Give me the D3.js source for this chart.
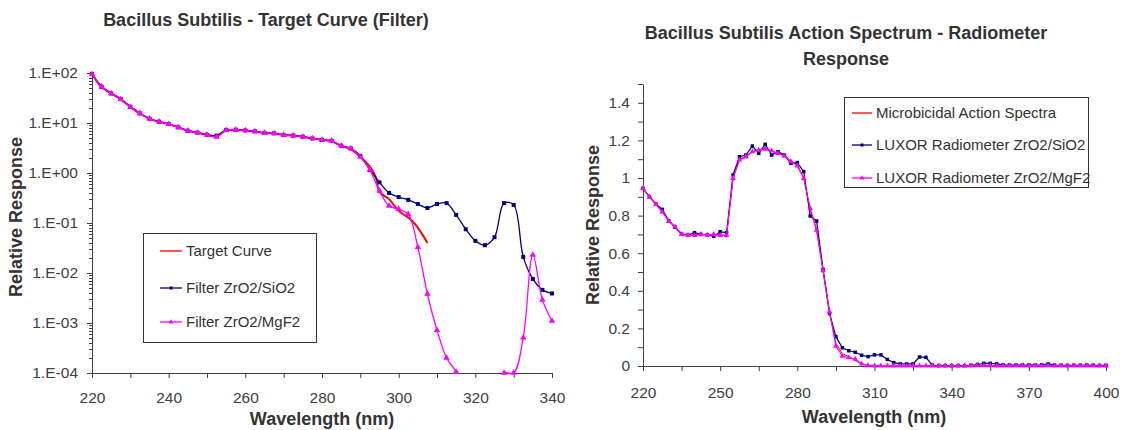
<!DOCTYPE html>
<html>
<head>
<meta charset="utf-8">
<script src="https://cdn.jsdelivr.net/npm/d3@7"></script>
<style>
  body { margin: 0; background: #fff; }
  text { font-family: "Liberation Sans", Arial, sans-serif; fill: #333; }
  .axis path, .axis line { stroke: #404040; }
  .axis text { font-size: 15.5px; fill: #404040; }
</style>
</head>
<body>
<div id="chart"></div>
<script>
// ---- left chart data (log scale) ----
var filterWl = [220, 222.5, 225, 227.5, 230, 232.5, 235, 237.5, 240, 242.5, 245, 247.5, 250, 252.5,
  255, 257.5, 260, 262.5, 265, 267.5, 270, 272.5, 275, 277.5, 280, 282.5, 285, 287.5, 290, 292.5,
  295, 297.5, 300, 302.5, 305, 307.5, 310, 312.5, 315, 317.5, 320, 322.5, 325, 327.5, 330, 332.5,
  335, 337.5, 340]
var filterSiO2 = [95, 53, 39, 30, 21, 15.6, 12.2, 10.6, 9.5, 8.2, 7.0, 6.4, 5.8, 5.6,
  7.2, 7.3, 7.1, 6.8, 6.3, 6.2, 5.75, 5.6, 5.3, 4.9, 4.6, 4.4, 3.5, 3.1, 2.2, 1.15,
  0.65, 0.40, 0.33, 0.29, 0.24, 0.20, 0.24, 0.25, 0.145, 0.075, 0.044, 0.036, 0.052, 0.25, 0.23, 0.021,
  0.0076, 0.0046, 0.0039]
var filterMgF2 = [95, 53, 39, 30, 21, 15.6, 12.2, 10.6, 9.5, 8.2, 7.0, 6.4, 5.8, 5.3,
  7.2, 7.3, 7.1, 6.8, 6.3, 6.2, 5.75, 5.6, 5.3, 4.9, 4.6, 4.4, 3.5, 3.1, 2.1, 1.15,
  0.44, 0.22, 0.19, 0.15, 0.033, 0.0038, 0.00072, 0.0002, 0.000105, 0.00003, 0.00001, 0.00001, 0.00003, 0.0001, 0.0001, 0.00051,
  0.023, 0.0029, 0.0011]
var targetWl = [220, 222.5, 225, 227.5, 230, 232.5, 235, 237.5, 240, 242.5, 245, 247.5, 250, 252.5,
  255, 257.5, 260, 262.5, 265, 267.5, 270, 272.5, 275, 277.5, 280, 282.5, 285, 287.5, 290,
  292.5, 294, 295, 297.5, 300, 303, 304.5, 306, 307.5]
var targetVal = [95, 53, 39, 30, 21, 15.6, 12.2, 10.6, 9.5, 8.2, 7.0, 6.4, 5.8, 5.4,
  7.2, 7.3, 7.1, 6.8, 6.3, 6.2, 5.75, 5.6, 5.3, 4.9, 4.6, 4.3, 3.5, 3.0, 2.1,
  1.34, 0.84, 0.42, 0.30, 0.176, 0.12, 0.091, 0.062, 0.040]
var logTicks = [1e-4, 1e-3, 1e-2, 1e-1, 1, 10, 100]

// ---- right chart data (linear scale) ----
var radioWl = [220, 222.5, 225, 227.5, 230, 232.5, 235, 237.5, 240, 242.5, 245, 247.5, 250, 252.5,
  255, 257.5, 260, 262.5, 265, 267.5, 270, 272.5, 275, 277.5, 280, 282.5, 285, 287.5, 290, 292.5,
  295, 297.5, 300, 302.5, 305, 307.5, 310, 312.5, 315, 317.5, 320, 322.5, 325, 327.5, 330, 332.5,
  335, 337.5, 340, 342.5, 345, 347.5, 350, 352.5, 355, 357.5, 360, 362.5, 365, 367.5, 370, 372.5,
  375, 377.5, 380, 382.5, 385, 387.5, 390, 392.5, 395, 397.5, 400]
var actionSpectra = [0.945, 0.90, 0.86, 0.825, 0.775, 0.74, 0.70, 0.697, 0.697, 0.70, 0.697, 0.697, 0.697, 0.695,
  1.0, 1.10, 1.115, 1.14, 1.15, 1.155, 1.145, 1.13, 1.12, 1.09, 1.07, 1.0, 0.83, 0.72, 0.51, 0.29,
  0.12, 0.066, 0.05, 0.03, 0.011, 0.003, 0, 0, 0, 0, 0, 0, 0, 0, 0, 0,
  0, 0, 0, 0, 0, 0.001, 0.002, 0.002, 0.002, 0.001, 0, 0, 0, 0, 0, 0,
  0, 0, 0, 0, 0, 0, 0, 0, 0, 0, 0]
var radioSiO2 = [0.945, 0.90, 0.862, 0.833, 0.773, 0.738, 0.702, 0.697, 0.709, 0.70, 0.697, 0.69, 0.714, 0.709,
  1.016, 1.113, 1.122, 1.17, 1.131, 1.179, 1.122, 1.14, 1.122, 1.078, 1.082, 1.034, 0.798, 0.771, 0.514, 0.28,
  0.156, 0.097, 0.081, 0.073, 0.057, 0.05, 0.059, 0.059, 0.035, 0.018, 0.011, 0.011, 0.011, 0.048, 0.046, 0.004,
  0.002, 0.002, 0.002, 0.002, 0.002, 0.004, 0.008, 0.014, 0.014, 0.011, 0.006, 0.005, 0.005, 0.005, 0.005, 0.005,
  0.006, 0.011, 0.005, 0.004, 0.003, 0.004, 0.004, 0.005, 0.004, 0.003, 0.003]
var radioMgF2 = [0.945, 0.90, 0.86, 0.82, 0.77, 0.74, 0.70, 0.695, 0.695, 0.70, 0.697, 0.70, 0.695, 0.695,
  0.998, 1.096, 1.113, 1.14, 1.149, 1.154, 1.145, 1.131, 1.117, 1.087, 1.064, 0.998, 0.839, 0.723, 0.507, 0.289,
  0.106, 0.053, 0.044, 0.037, 0.011, 0.002, 0.001, 0.001, 0.001, 0.001, 0.001, 0.001, 0.001, 0.001, 0.001, 0.001,
  0.001, 0.001, 0.001, 0.001, 0.001, 0.001, 0.002, 0.002, 0.002, 0.001, 0.001, 0.001, 0.001, 0.001, 0.001, 0.001,
  0.001, 0.002, 0.001, 0.001, 0.001, 0.001, 0.001, 0.001, 0.001, 0.001, 0.001]

var RED = '#ff0000', NAVY = '#000080', MAGENTA = '#ff00ff'

var svg = d3.select('#chart')
  .append('svg')
    .attr('width', 1121)
    .attr('height', 430)

function zip(xs, ys){ return xs.map(function(x, i){ return [x, ys[i]] }) }

function expLabel(d){
  var e = Math.round(Math.log10(d))
  return '1.E' + (e < 0 ? '-' : '+') + (Math.abs(e) < 10 ? '0' : '') + Math.abs(e)
}

function squares(g, pts, x, y, size){
  g.selectAll(null).data(pts).enter().append('rect')
      .attr('x', function(d){ return x(d[0]) - size/2 })
      .attr('y', function(d){ return y(d[1]) - size/2 })
      .attr('width', size).attr('height', size)
      .attr('fill', NAVY)
}

function triangles(g, pts, x, y, size){
  g.selectAll(null).data(pts).enter().append('path')
      .attr('d', d3.symbol(d3.symbolTriangle, size))
      .attr('transform', function(d){ return 'translate(' + x(d[0]) + ',' + y(d[1]) + ')' })
      .attr('fill', MAGENTA)
}

function legend(x0, y0, w, h, rows, lineX, textX){
  var g = svg.append('g')
  g.append('rect')
      .attr('x', x0 + .5).attr('y', y0 + .5).attr('width', w).attr('height', h)
      .attr('fill', '#fff').attr('stroke', '#333')
  rows.forEach(function(r){
    g.append('line')
        .attr('x1', lineX[0]).attr('x2', lineX[1]).attr('y1', r.y).attr('y2', r.y)
        .attr('stroke', r.color).attr('stroke-width', 1.3)
    var mx = (lineX[0] + lineX[1]) / 2
    if (r.marker == 'square')
      g.append('rect').attr('x', mx - 1.5).attr('y', r.y - 1.5).attr('width', 3).attr('height', 3).attr('fill', r.color)
    if (r.marker == 'triangle')
      g.append('path').attr('d', d3.symbol(d3.symbolTriangle, 10)).attr('transform', 'translate(' + mx + ',' + r.y + ')').attr('fill', r.color)
    g.append('text')
        .attr('x', textX).attr('y', r.y).attr('dy', '0.35em')
        .style('font-size', '15px')
        .text(r.label)
  })
}

// =================== LEFT: Target Curve (Filter) ===================
var xL = d3.scaleLinear().domain([220, 340]).range([92, 552])
var yL = d3.scaleLog().domain([1e-4, 1e2]).range([373, 73])

svg.append('text')
    .attr('x', 266).attr('y', 26)
    .attr('text-anchor', 'middle')
    .style('font-size', '18px').style('font-weight', 'bold')
    .text('Bacillus Subtilis - Target Curve (Filter)')

svg.append('g').attr('class', 'axis')
    .attr('transform', 'translate(0,373)')
    .call(d3.axisBottom(xL)
      .tickValues(d3.range(220, 341, 10))
      .tickFormat(function(d){ return d % 20 == 0 ? d : '' })
      .tickSize(5).tickSizeOuter(0).tickPadding(13.5))

svg.append('g').attr('class', 'axis')
    .attr('transform', 'translate(92,0)')
    .call(d3.axisLeft(yL)
      .tickValues(logTicks)
      .tickFormat(expLabel)
      .tickSize(5).tickSizeOuter(0).tickPadding(9))

// minor log ticks
var minor = []
logTicks.slice(0, -1).forEach(function(t){
  for (var k = 2; k < 10; k++) minor.push(t * k)
})
svg.append('g').selectAll('line').data(minor).enter().append('line')
    .attr('x1', 89).attr('x2', 92)
    .attr('y1', function(d){ return Math.round(yL(d)) + .5 })
    .attr('y2', function(d){ return Math.round(yL(d)) + .5 })
    .attr('stroke', '#404040')

svg.append('text')
    .attr('transform', 'translate(22,217) rotate(-90)')
    .attr('text-anchor', 'middle')
    .style('font-size', '18px').style('font-weight', 'bold')
    .text('Relative Response')

svg.append('text')
    .attr('x', 322).attr('y', 425)
    .attr('text-anchor', 'middle')
    .style('font-size', '18px').style('font-weight', 'bold')
    .text('Wavelength (nm)')

svg.append('clipPath').attr('id', 'clipL')
  .append('rect').attr('x', 92).attr('y', 60).attr('width', 470).attr('height', 314)

var lineL = d3.line()
    .x(function(d){ return xL(d[0]) })
    .y(function(d){ return yL(d[1]) })
    .curve(d3.curveCatmullRom.alpha(0.5))

var gL = svg.append('g')
var targetPts = zip(targetWl, targetVal),
    sio2Pts = zip(filterWl, filterSiO2),
    mgf2Pts = zip(filterWl, filterMgF2)

gL.append('path').attr('d', lineL(targetPts)).attr('clip-path', 'url(#clipL)')
    .attr('fill', 'none').attr('stroke', RED).attr('stroke-width', 2)
gL.append('path').attr('d', lineL(sio2Pts)).attr('clip-path', 'url(#clipL)')
    .attr('fill', 'none').attr('stroke', NAVY).attr('stroke-width', 1.3)
squares(gL, sio2Pts, xL, yL, 4)
gL.append('path').attr('d', lineL(mgf2Pts)).attr('clip-path', 'url(#clipL)')
    .attr('fill', 'none').attr('stroke', MAGENTA).attr('stroke-width', 1.3)
triangles(gL, mgf2Pts.filter(function(d){ return d[1] >= 0.99e-4 }), xL, yL, 18)

legend(143, 233, 173, 109, [
  {y: 251, color: RED, label: 'Target Curve'},
  {y: 288, color: NAVY, label: 'Filter ZrO2/SiO2', marker: 'square'},
  {y: 322, color: MAGENTA, label: 'Filter ZrO2/MgF2', marker: 'triangle'}
], [160, 182], 186)

// =================== RIGHT: Radiometer Response ===================
var xR = d3.scaleLinear().domain([220, 400]).range([643, 1106])
var yR = d3.scaleLinear().domain([0, 1.5]).range([366, 84])

var title = svg.append('text')
    .attr('text-anchor', 'middle')
    .style('font-size', '18px').style('font-weight', 'bold')
title.append('tspan').attr('x', 846).attr('y', 39).text('Bacillus Subtilis Action Spectrum - Radiometer')
title.append('tspan').attr('x', 846).attr('y', 65).text('Response')

svg.append('g').attr('class', 'axis')
    .attr('transform', 'translate(0,366)')
    .call(d3.axisBottom(xR)
      .tickValues(d3.range(220, 401, 15))
      .tickFormat(function(d){ return (d - 220) % 30 == 0 ? d : '' })
      .tickSize(5).tickSizeOuter(0).tickPadding(15.5))

svg.append('g').attr('class', 'axis')
    .attr('transform', 'translate(643,0)')
    .call(d3.axisLeft(yR)
      .tickValues(d3.range(0, 16).map(function(i){ return i / 10 }))
      .tickFormat(function(d){ return Math.round(d * 10) % 2 == 0 && d < 1.45 ? String(+d.toFixed(1)) : '' })
      .tickSize(5).tickSizeOuter(0).tickPadding(8))

svg.append('text')
    .attr('transform', 'translate(599,225) rotate(-90)')
    .attr('text-anchor', 'middle')
    .style('font-size', '18px').style('font-weight', 'bold')
    .text('Relative Response')

svg.append('text')
    .attr('x', 874).attr('y', 423)
    .attr('text-anchor', 'middle')
    .style('font-size', '18px').style('font-weight', 'bold')
    .text('Wavelength (nm)')

var lineR = d3.line()
    .x(function(d){ return xR(d[0]) })
    .y(function(d){ return yR(d[1]) })

var gR = svg.append('g')
var actPts = zip(radioWl, actionSpectra),
    rSiO2 = zip(radioWl, radioSiO2),
    rMgF2 = zip(radioWl, radioMgF2)

gR.append('path').attr('d', lineR(actPts))
    .attr('fill', 'none').attr('stroke', RED).attr('stroke-width', 1)
gR.append('path').attr('d', lineR(rSiO2))
    .attr('fill', 'none').attr('stroke', NAVY).attr('stroke-width', 1.2)
squares(gR, rSiO2, xR, yR, 3.5)
gR.append('path').attr('d', lineR(rMgF2))
    .attr('fill', 'none').attr('stroke', MAGENTA).attr('stroke-width', 1.2)
triangles(gR, rMgF2, xR, yR, 14)

legend(844, 97, 244, 90, [
  {y: 113, color: RED, label: 'Microbicidal Action Spectra'},
  {y: 145, color: NAVY, label: 'LUXOR Radiometer ZrO2/SiO2', marker: 'square'},
  {y: 178, color: MAGENTA, label: 'LUXOR Radiometer ZrO2/MgF2', marker: 'triangle'}
], [852, 872], 876)
</script>
</body>
</html>
